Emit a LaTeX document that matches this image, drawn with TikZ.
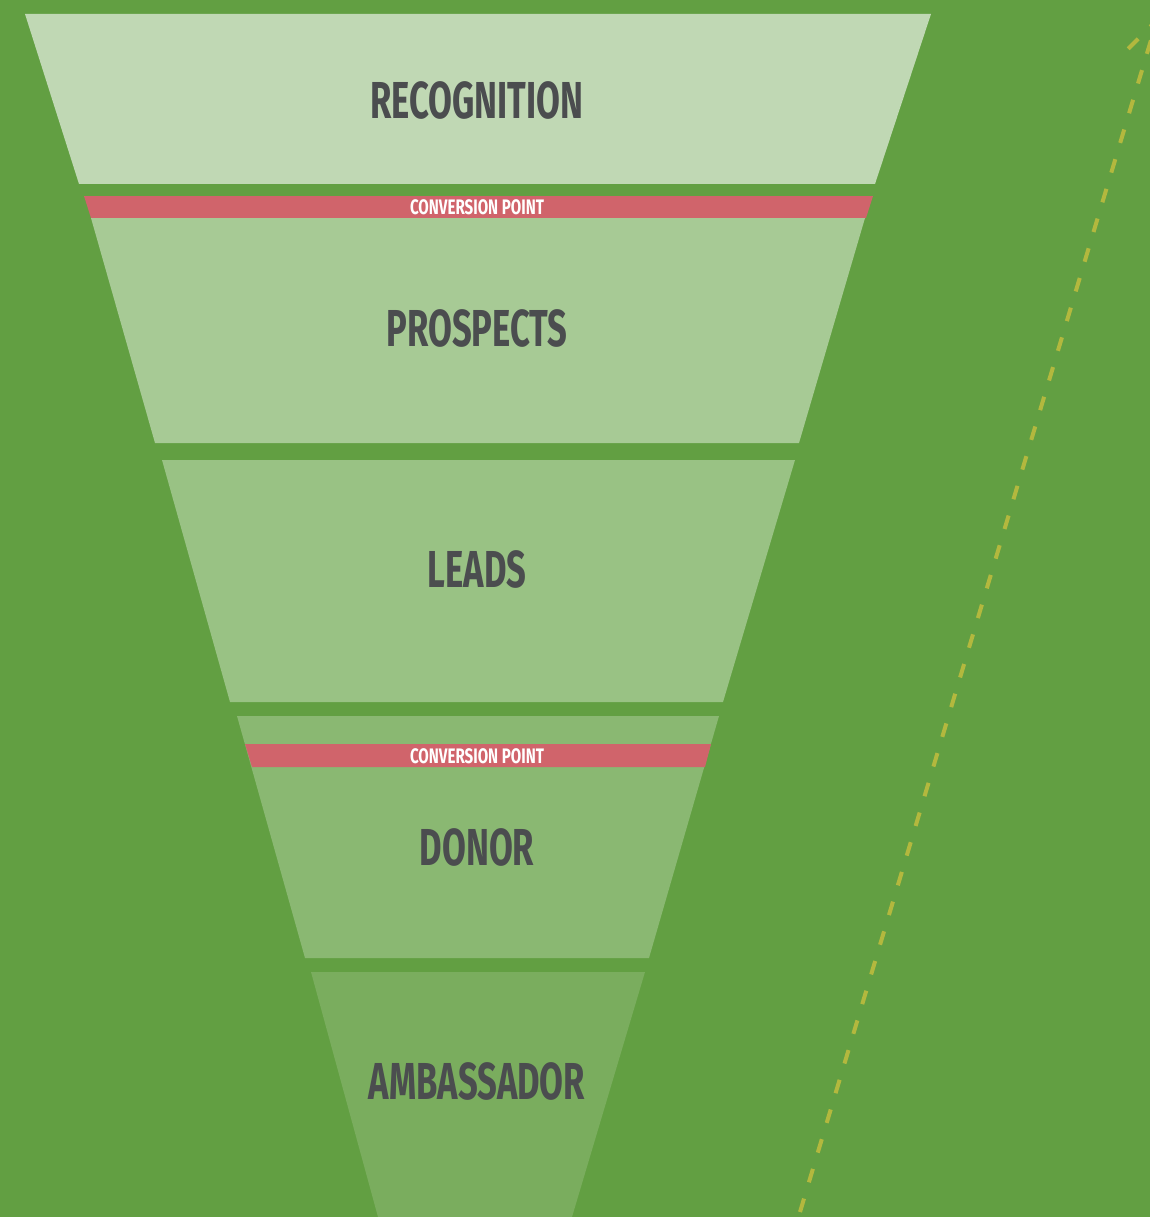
\documentclass[tikz,border=0pt]{standalone}
\usepackage{fontspec}
\setmainfont{Fira Sans}
\usepackage{graphicx}

\definecolor{bggreen}{HTML}{629F42}
\definecolor{recogfill}{HTML}{C0D8B4}
\definecolor{prospfill}{HTML}{A7CA95}
\definecolor{leadsfill}{HTML}{99C284}
\definecolor{donorfill}{HTML}{8AB872}
\definecolor{ambfill}{HTML}{7AAD5E}
\definecolor{convred}{HTML}{D0646B}
\definecolor{trendline}{HTML}{B3B83E}
\definecolor{labelgray}{HTML}{4B4D4F}

\newcommand{\narrow}[2][0.665]{\scalebox{#1}[1]{#2}}

\tikzset{
    stagelabel/.style={inner sep=0pt, text=labelgray,
        font=\bfseries\fontsize{52}{52}\selectfont},
    convlabel/.style={inner sep=0pt, text=white,
        font=\bfseries\fontsize{21}{21}\selectfont},
    trend/.style={trendline, line width=4pt, dash pattern=on 14pt off 17pt}
}

\begin{document}
\begin{tikzpicture}[x=1pt,y=-1pt]
    \fill[bggreen] (0,0) rectangle (1150,1217);
    \useasboundingbox (0,0) rectangle (1150,1217);

    % funnel stages
    \fill[recogfill] (25,14) -- (931,14) -- (875,184) -- (79,184) -- cycle;
    \fill[convred] (84,196) -- (873,196) -- (866,218) -- (91,218) -- cycle;
    \fill[prospfill] (91,218) -- (865,218) -- (799,443) -- (155,443) -- cycle;
    \fill[leadsfill] (162,460) -- (795,460) -- (723,702) -- (230,702) -- cycle;
    \fill[donorfill] (237,716) -- (719,716) -- (649,958) -- (305,958) -- cycle;
    \fill[convred] (245,744) -- (711,744) -- (705,767) -- (252,767) -- cycle;
    \fill[ambfill] (311,972) -- (645,972) -- (572,1217) -- (378,1217) -- cycle;

    \node [stagelabel] (recognition) at (477,100) {\narrow{RECOGNITION}};
    \node [convlabel] (convpoint1) at (477,207) {\narrow[0.72]{CONVERSION POINT}};
    \node [stagelabel] (prospects) at (477,328) {\narrow{PROSPECTS}};
    \node [stagelabel] (leads) at (477,569) {\narrow{LEADS}};
    \node [convlabel] (convpoint2) at (477,756) {\narrow[0.72]{CONVERSION POINT}};
    \node [stagelabel] (donor) at (477,847) {\narrow{DONOR}};
    \node [stagelabel] (ambassador) at (477,1081) {\narrow{AMBASSADOR}};

    % dashed trend arrow
    \coordinate (trendstart) at (800,1212);
    \coordinate (trendtip) at (1157,20);
    \coordinate (trendwing) at (1122,55);
    \draw[trend] (trendstart) -- (trendtip) -- (trendwing);
\end{tikzpicture}
\end{document}
